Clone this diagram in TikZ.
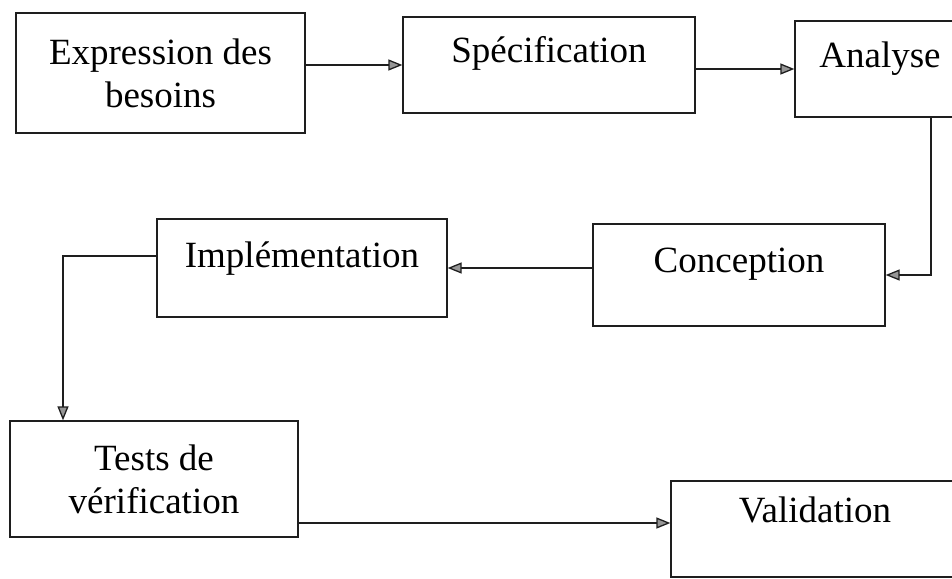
\documentclass[tikz,border=0pt]{standalone}
\usepackage{fontspec}
\setmainfont{Liberation Serif}
\usetikzlibrary{calc, arrows.meta, positioning}
\definecolor{tipgray}{RGB}{150,150,150}
\definecolor{inkline}{RGB}{30,30,30}

\begin{document}
\begin{tikzpicture}[x=1pt, y=-1pt, font=\fontsize{37}{43}\selectfont]
		% Styles for boxes and arrows
		\tikzset{stage/.style={draw=inkline, line width=1.3pt, inner sep=0pt, align=center}}
		\tikzset{lift/.style={text height=26pt, text depth=#1}}
		\tikzset{flow/.style={draw=inkline, line width=1.3pt, -{Triangle[length=14pt, width=11pt, fill=tipgray]}}}
		
		% Page frame
		\useasboundingbox (0,0) rectangle (952,578);
		
		% --- First row ---
		\node[stage, minimum width=289pt, minimum height=120pt] (expr) at (160.5,73) {Expression des\\besoins};
		\node[stage, lift=30pt, minimum width=292pt, minimum height=96pt] (spec) at (549,65) {Spécification};
		\node[stage, lift=30pt, minimum width=170pt, minimum height=96pt] (anal) at (880,69) {Analyse}; % cut at the page edge
		
		% --- Second row ---
		\node[stage, lift=32pt, minimum width=292pt, minimum height=102pt] (concep) at (739,275) {Conception};
		\node[stage, lift=28pt, minimum width=290pt, minimum height=98pt] (impl) at (302,268) {Implémentation};
		
		% --- Third row ---
		\node[stage, minimum width=288pt, minimum height=116pt] (tests) at (154,479) {Tests de\\vérification};
		\node[stage, lift=40pt, minimum width=288pt, minimum height=96pt] (valid) at (815,529) {Validation};
		
		% Arrows
		\draw[flow] (expr.east |- spec.west) -- (spec.west);
		\draw[flow] (spec.east |- anal.west) -- (anal.west);
		\draw[flow] ([xshift=51pt]anal.south) |- (concep.east);
		\draw[flow] (concep.west |- impl.east) -- (impl.east);
		\draw[flow] ([yshift=12pt]impl.west) -| ([xshift=-91pt]tests.north);
		\coordinate (tv) at ($(tests.east)+(0,44)$);
		\draw[flow] (tv) -- (tv -| valid.west);
	\end{tikzpicture}
\end{document}
